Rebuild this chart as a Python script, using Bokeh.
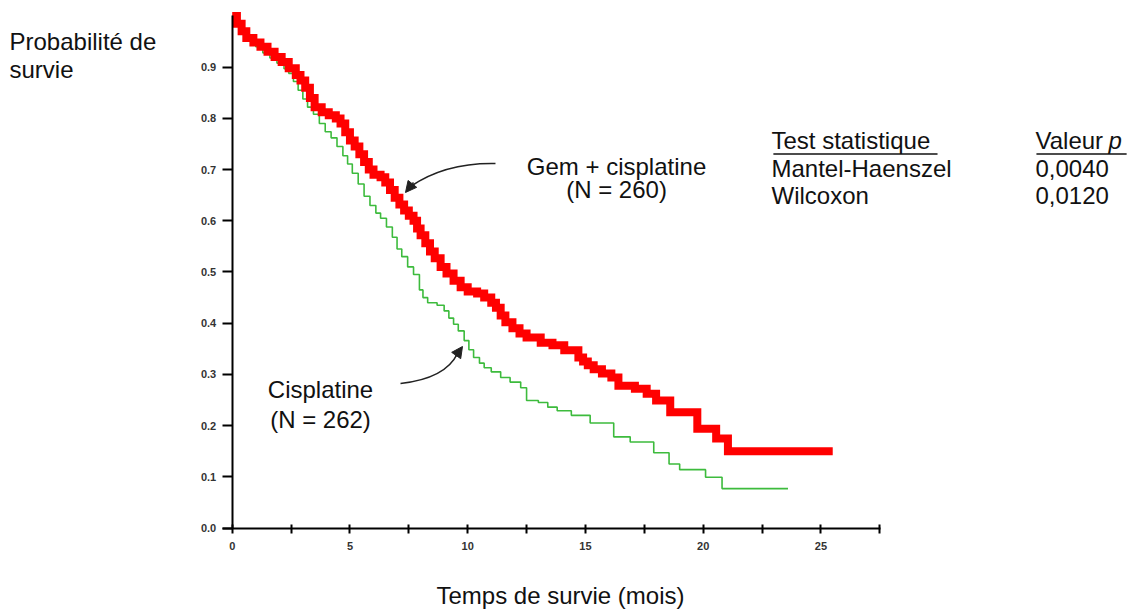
from bokeh.plotting import figure
from bokeh.models import (Range1d, FixedTicker, PrintfTickFormatter, Label, Arrow,
                          NormalHead, LinearAxis)
from bokeh.embed import file_html
from bokeh.resources import INLINE

# ---- data (Kaplan-Meier steps) ----
gem_time = [0, 0.2, 0.4, 0.6, 0.9, 1.2, 1.5, 1.8, 2.1, 2.4, 2.7, 2.9, 3.1, 3.3, 3.5,
            3.8, 4.1, 4.4, 4.6, 4.8, 5.0, 5.2, 5.4, 5.6, 5.8, 6.0, 6.3, 6.5, 6.7, 6.9,
            7.1, 7.3, 7.5, 7.7, 7.85, 8.0, 8.2, 8.4, 8.6, 8.85, 9.1, 9.4, 9.7, 10.0,
            10.4, 10.7, 11.0, 11.2, 11.4, 11.6, 11.9, 12.2, 12.5, 13.1, 13.6, 14.1,
            14.7, 14.9, 15.1, 15.35, 15.7, 16.1, 16.4, 17.1, 17.6, 18.0, 18.6, 19.75,
            20.55, 21.05, 25.5]
gem_surv = [1.0, 0.985, 0.97, 0.957, 0.948, 0.94, 0.93, 0.92, 0.91, 0.898, 0.885, 0.874,
            0.86, 0.84, 0.822, 0.812, 0.806, 0.80, 0.79, 0.773, 0.757, 0.745, 0.73, 0.715,
            0.70, 0.69, 0.685, 0.675, 0.66, 0.645, 0.632, 0.62, 0.61, 0.60, 0.585, 0.572,
            0.556, 0.54, 0.527, 0.51, 0.497, 0.483, 0.47, 0.462, 0.458, 0.45, 0.44, 0.43,
            0.415, 0.402, 0.39, 0.38, 0.372, 0.362, 0.357, 0.347, 0.333, 0.325, 0.318,
            0.31, 0.302, 0.294, 0.278, 0.272, 0.262, 0.249, 0.226, 0.194, 0.175, 0.15, 0.15]

cis_time = [0, 0.15, 0.4, 0.7, 1.0, 1.3, 1.6, 1.9, 2.2, 2.4, 2.6, 2.8, 3.0, 3.2, 3.45,
            3.7, 3.95, 4.2, 4.45, 4.7, 4.9, 5.1, 5.35, 5.6, 5.85, 6.1, 6.3, 6.55, 6.8,
            7.0, 7.2, 7.45, 7.7, 7.95, 8.1, 8.3, 8.7, 9.0, 9.2, 9.4, 9.6, 9.85, 10.05,
            10.25, 10.5, 10.7, 11.0, 11.4, 11.8, 12.25, 12.5, 13.0, 13.4, 13.8, 14.4,
            15.2, 16.2, 16.9, 17.9, 18.55, 19.0, 20.1, 20.8, 23.6]
cis_surv = [1.0, 0.985, 0.97, 0.955, 0.94, 0.928, 0.918, 0.908, 0.897, 0.888, 0.872,
            0.855, 0.838, 0.822, 0.808, 0.79, 0.774, 0.762, 0.745, 0.727, 0.711, 0.693,
            0.672, 0.648, 0.63, 0.615, 0.605, 0.588, 0.568, 0.545, 0.53, 0.51, 0.495,
            0.465, 0.45, 0.44, 0.435, 0.424, 0.41, 0.398, 0.385, 0.366, 0.348, 0.333,
            0.322, 0.313, 0.305, 0.294, 0.285, 0.274, 0.249, 0.245, 0.236, 0.229, 0.22,
            0.205, 0.178, 0.168, 0.147, 0.125, 0.114, 0.099, 0.077, 0.077]

x_ticks = [0, 5, 10, 15, 20, 25]
x_minor = [2.5, 7.5, 12.5, 17.5, 22.5, 27.5]
y_ticks = [0.0, 0.1, 0.2, 0.3, 0.4, 0.5, 0.6, 0.7, 0.8, 0.9]

gem_name = "Gem + cisplatine"
gem_n = "(N = 260)"
cis_name = "Cisplatine"
cis_n = "(N = 262)"
test_names = ["Mantel-Haenszel", "Wilcoxon"]
p_values = ["0,0040", "0,0120"]

FONT = "Liberation Sans"
FS = "24px"
TXT = "#111111"

p = figure(width=1130, height=610, output_backend="svg", toolbar_location=None,
           x_range=Range1d(-9.8386, 38.144), y_range=Range1d(-0.16113, 1.03027),
           x_axis_location=None, y_axis_location=None, min_border=0)
p.outline_line_color = None
p.xgrid.grid_line_color = None
p.ygrid.grid_line_color = None
p.background_fill_color = "white"
p.border_fill_color = "white"

# axes crossing at the origin
xa = LinearAxis(fixed_location=0, bounds=(-0.42, 27.53),
                ticker=FixedTicker(ticks=x_ticks, minor_ticks=x_minor))
xa.axis_line_width = 2
xa.axis_line_color = "black"
xa.major_tick_line_width = 2
xa.minor_tick_line_width = 2
xa.major_tick_in = 4
xa.major_tick_out = 5
xa.minor_tick_in = 4
xa.minor_tick_out = 5
xa.major_label_text_font = FONT
xa.major_label_text_font_size = "11px"
xa.major_label_text_font_style = "bold"
xa.major_label_text_color = "#333333"
xa.major_label_standoff = 9
p.add_layout(xa, "below")

ya = LinearAxis(fixed_location=0, bounds=(0, 1.0), ticker=FixedTicker(ticks=y_ticks),
                formatter=PrintfTickFormatter(format="%.1f"))
ya.axis_line_width = 2
ya.axis_line_color = "black"
ya.major_tick_line_width = 2
ya.major_tick_in = 0
ya.major_tick_out = 10
ya.minor_tick_in = 0
ya.minor_tick_out = 0
ya.major_label_text_font = FONT
ya.major_label_text_font_size = "11px"
ya.major_label_text_font_style = "bold"
ya.major_label_text_color = "#333333"
ya.major_label_standoff = 6
p.add_layout(ya, "left")

# curves
p.step(cis_time, cis_surv, mode="after", line_color="#3dbb3d", line_width=1.6)
p.step(gem_time, gem_surv, mode="after", line_color="#ff0000", line_width=8,
       line_join="miter")

# arrows
ARC = "#222222"
p.quadratic(x0=[11.180], y0=[0.7119], x1=[7.571], y1=[0.6670], cx=[9.057], cy=[0.7139],
            line_color=ARC, line_width=1.6)
p.add_layout(Arrow(end=NormalHead(size=11, fill_color=ARC, line_color=ARC),
                   x_start=7.698, y_start=0.6748, x_end=7.359, y_end=0.6553,
                   line_color=ARC, line_width=1.6))
p.quadratic(x0=[7.147], y0=[0.2822], x1=[9.567], y1=[0.3408], cx=[9.057], cy=[0.2920],
            line_color=ARC, line_width=1.6)
p.add_layout(Arrow(end=NormalHead(size=11, fill_color=ARC, line_color=ARC),
                   x_start=9.482, y_start=0.3350, x_end=9.779, y_end=0.3545,
                   line_color=ARC, line_width=1.6))

def lab(x, y, text, align="left", style="normal"):
    p.add_layout(Label(x=x, y=y, text=text, text_align=align, text_baseline="alphabetic",
                       text_font=FONT, text_font_size=FS, text_color=TXT,
                       text_font_style=style))

lab(-9.456, 0.9502, "Probabilité de")
lab(-9.456, 0.8961, "survie")
lab(13.94, -0.1318, "Temps de survie (mois)", align="center")
lab(16.32, 0.7061, gem_name, align="center")
lab(16.32, 0.6602, gem_n, align="center")
lab(3.749, 0.2699, cis_name, align="center")
lab(3.749, 0.2114, cis_n, align="center")

lab(22.90, 0.7563, "Test statistique")
lab(34.11, 0.7563, "Valeur ")
lab(37.21, 0.7563, "p", style="italic")
row_y = [0.7028, 0.6494]
for name, pv, yy in zip(test_names, p_values, row_y):
    lab(22.90, yy, name)
    lab(34.11, yy, pv)

p.segment(x0=[22.98, 34.15], y0=[0.7305, 0.7305], x1=[29.95, 37.98], y1=[0.7305, 0.7305],
          line_color=TXT, line_width=1.5)

open("out.html", "w").write(file_html(p, INLINE))
